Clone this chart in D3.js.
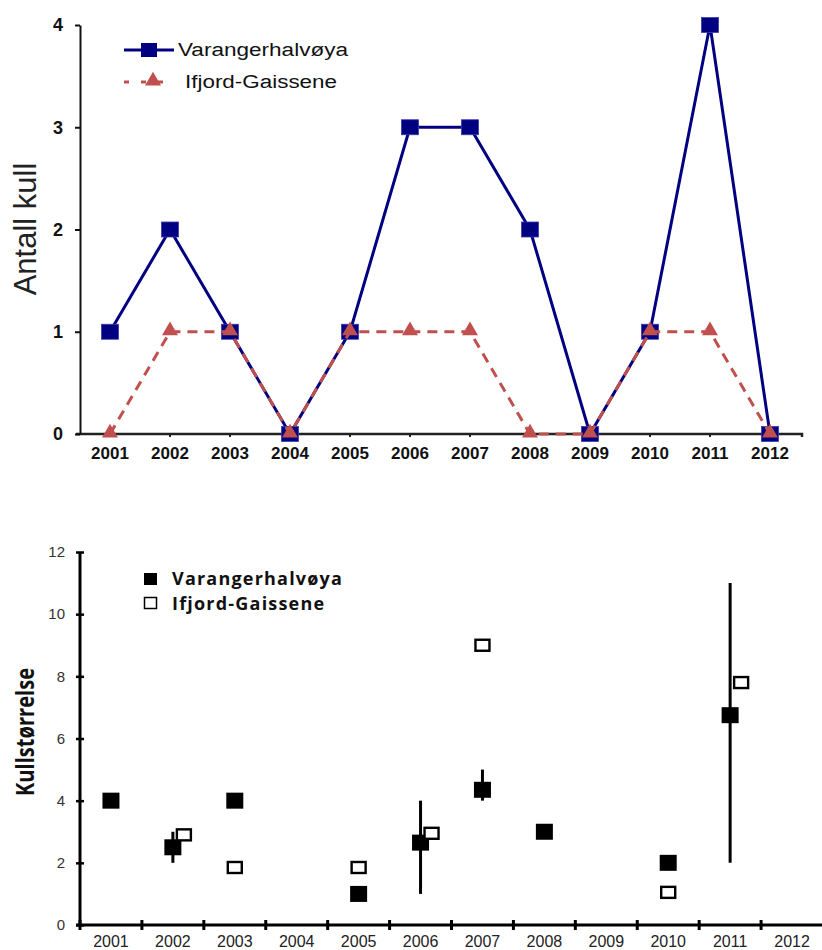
<!DOCTYPE html>
<html>
<head>
<meta charset="utf-8">
<script src="https://cdn.jsdelivr.net/npm/d3@7/dist/d3.min.js"></script>
<style>
  body { margin: 0; background: #fff; }
  svg { display: block; }
</style>
</head>
<body>
<svg id="chart" width="822" height="950"></svg>
<script>
// litter counts per year (top panel)
const years = ['2001', '2002', '2003', '2004', '2005', '2006', '2007', '2008', '2009', '2010', '2011', '2012'];
const varangerCount = [1, 2, 1, 0, 1, 3, 3, 2, 0, 1, 4, 0];
const ifjordCount = [0, 1, 1, 0, 1, 1, 1, 0, 0, 1, 1, 0];
const countTicks = [0, 1, 2, 3, 4];

// litter size per year (bottom panel), null = no data
const varangerSize = [4, 2.5, 4, null, 1, 2.65, 4.35, 3, null, 2, 6.75, null];
const varangerLow = [null, 2, null, null, null, 1, 4, null, null, null, 2, null];
const varangerHigh = [null, 3, null, null, null, 4, 5, null, null, null, 11, null];
const ifjordSize = [null, 2.9, 1.85, null, 1.85, 2.95, 9, null, null, 1.05, 7.8, null];
const sizeTicks = [0, 2, 4, 6, 8, 10, 12];

const seriesNames = ['Varangerhalvøya', 'Ifjord-Gaissene'];

const blue = '#000080';
const red = '#c0504d';
const narrow = '"Liberation Sans Narrow", "Arial Narrow", "Liberation Sans", Arial, sans-serif';
const svg = d3.select('#chart');

// ---------- top panel ----------
const topPanel = svg.append('g');
const x1 = d3.scaleBand().domain(years).range([80, 800]);
const y1 = d3.scaleLinear().domain([0, 4]).range([434, 25]);
const cx1 = d => x1(d) + x1.bandwidth() / 2;

const xAxis1 = d3.axisBottom(x1).tickSizeInner(3).tickSizeOuter(3).tickPadding(10);
const yAxis1 = d3.axisLeft(y1).tickValues(countTicks).tickFormat(d3.format('d')).tickSizeInner(5).tickSizeOuter(0).tickPadding(12);

topPanel.append('g')
  .attr('transform', 'translate(0,434)')
  .call(xAxis1)
  .call(g => g.select('.domain').attr('stroke', '#222').attr('stroke-width', 2.5).attr('d', 'M76,0H802V3'))
  .call(g => g.selectAll('.tick line').attr('stroke', '#222').attr('stroke-width', 2))
  .call(g => g.selectAll('text').attr('fill', '#111').style('font', `bold 17px ${narrow}`));

topPanel.append('g')
  .attr('transform', 'translate(80,0)')
  .call(yAxis1)
  .call(g => g.select('.domain').attr('stroke', '#111').attr('stroke-width', 2))
  .call(g => g.selectAll('.tick line').attr('stroke', '#111').attr('stroke-width', 2))
  .call(g => g.selectAll('text').attr('fill', '#111').style('font', `bold 18px ${narrow}`));

topPanel.append('text')
  .attr('transform', 'translate(36,229) rotate(-90)')
  .attr('text-anchor', 'middle')
  .attr('fill', '#222')
  .style('font', '31px "Liberation Sans", Arial, sans-serif')
  .text('Antall kull');

const line1 = d3.line().x((d, i) => cx1(years[i])).y(d => y1(d));

topPanel.append('path')
  .datum(varangerCount)
  .attr('d', line1)
  .attr('fill', 'none')
  .attr('stroke', blue)
  .attr('stroke-width', 3);

topPanel.selectAll('rect.varanger')
  .data(varangerCount)
  .enter().append('rect')
  .attr('class', 'varanger')
  .attr('x', (d, i) => cx1(years[i]) - 8.5)
  .attr('y', d => y1(d) - 7.5)
  .attr('width', 17)
  .attr('height', 15)
  .attr('fill', blue)
  .attr('stroke', '#3b3bb0')
  .attr('stroke-width', 0.8);

topPanel.append('path')
  .datum(ifjordCount)
  .attr('d', line1)
  .attr('fill', 'none')
  .attr('stroke', red)
  .attr('stroke-width', 3)
  .attr('stroke-dasharray', '10,7');

const tri = d3.symbol().type(d3.symbolTriangle).size(110);

topPanel.selectAll('path.ifjord')
  .data(ifjordCount)
  .enter().append('path')
  .attr('class', 'ifjord')
  .attr('d', tri)
  .attr('transform', (d, i) => `translate(${cx1(years[i])},${y1(d) - 1})`)
  .attr('fill', red);

// legend top
const leg1 = topPanel.append('g').style('font', '18px "Liberation Sans", Arial, sans-serif').attr('fill', '#111');
leg1.append('line').attr('x1', 124).attr('x2', 174).attr('y1', 50).attr('y2', 50).attr('stroke', blue).attr('stroke-width', 3);
leg1.append('rect').attr('x', 141).attr('y', 43).attr('width', 16).attr('height', 14).attr('fill', blue);
leg1.append('text').attr('x', 178).attr('y', 56)
  .attr('textLength', 170).attr('lengthAdjust', 'spacingAndGlyphs').text(seriesNames[0]);
leg1.append('line').attr('x1', 124).attr('x2', 164).attr('y1', 82).attr('y2', 82)
  .attr('stroke', red).attr('stroke-width', 3).attr('stroke-dasharray', '5,12');
leg1.append('path').attr('d', tri).attr('transform', 'translate(153,81)').attr('fill', red);
leg1.append('text').attr('x', 185).attr('y', 88)
  .attr('textLength', 152).attr('lengthAdjust', 'spacingAndGlyphs').text(seriesNames[1]);

// ---------- bottom panel ----------
const bot = svg.append('g');
const x2 = d3.scaleBand().domain(years).range([80, 823]);
const y2 = d3.scaleLinear().domain([0, 12]).range([925, 552]);
const cx2 = d => x2(d) + x2.bandwidth() / 2;

const xAxis2 = d3.axisBottom(x2).tickSize(0).tickPadding(11);
const yAxis2 = d3.axisLeft(y2).tickValues(sizeTicks).tickSizeInner(4).tickSizeOuter(0).tickPadding(11);

bot.append('g')
  .attr('transform', 'translate(0,925)')
  .call(xAxis2)
  .call(g => g.select('.domain').attr('stroke', '#000').attr('stroke-width', 3).attr('d', 'M76,0H822'))
  .call(g => g.selectAll('text').attr('fill', '#222').style('font', '16px "Liberation Sans", Arial, sans-serif'));

// boundary ticks crossing the x axis
bot.append('g')
  .selectAll('line')
  .data(years)
  .enter().append('line')
  .attr('x1', d => x2(d))
  .attr('x2', d => x2(d))
  .attr('y1', 920)
  .attr('y2', 930)
  .attr('stroke', '#000')
  .attr('stroke-width', 3);

bot.append('g')
  .attr('transform', 'translate(80,0)')
  .call(yAxis2)
  .call(g => g.select('.domain').attr('stroke', '#000').attr('stroke-width', 3).attr('d', 'M0,552V925'))
  .call(g => g.selectAll('.tick line').attr('x1', -4).attr('x2', 4).attr('stroke', '#000').attr('stroke-width', 2.5))
  .call(g => g.selectAll('text').attr('fill', '#333').style('font', '15px "Liberation Sans", Arial, sans-serif'));

bot.append('text')
  .attr('transform', 'translate(34,732) rotate(-90)')
  .attr('text-anchor', 'middle')
  .attr('fill', '#111')
  .attr('textLength', 128)
  .attr('lengthAdjust', 'spacingAndGlyphs')
  .style('font', 'bold 25px "Open Sans", sans-serif')
  .text('Kullstørrelse');

const sizeRows = years.map((yr, i) => ({
  year: yr,
  v: varangerSize[i],
  lo: varangerLow[i],
  hi: varangerHigh[i],
  f: ifjordSize[i]
}));

// error bars
bot.selectAll('line.err')
  .data(sizeRows.filter(d => d.lo != null))
  .enter().append('line')
  .attr('class', 'err')
  .attr('x1', d => cx2(d.year))
  .attr('x2', d => cx2(d.year))
  .attr('y1', d => y2(d.lo))
  .attr('y2', d => y2(d.hi))
  .attr('stroke', '#000')
  .attr('stroke-width', 3);

bot.selectAll('rect.v')
  .data(sizeRows.filter(d => d.v != null))
  .enter().append('rect')
  .attr('class', 'v')
  .attr('x', d => cx2(d.year) - 8.5)
  .attr('y', d => y2(d.v) - 8)
  .attr('width', 17)
  .attr('height', 16)
  .attr('fill', '#000');

// open marker sits beside the filled one when it falls inside its error bar
const shiftOpen = d => (d.lo != null && d.f >= d.lo && d.f <= d.hi) ? 11 : 0;

bot.selectAll('rect.f')
  .data(sizeRows.filter(d => d.f != null))
  .enter().append('rect')
  .attr('class', 'f')
  .attr('x', d => cx2(d.year) + shiftOpen(d) - 7)
  .attr('y', d => y2(d.f) - 5.5)
  .attr('width', 14)
  .attr('height', 11)
  .attr('fill', '#fff')
  .attr('stroke', '#000')
  .attr('stroke-width', 2.4);

// legend bottom
const leg2 = bot.append('g').style('font', 'bold 18px "Open Sans", sans-serif').attr('fill', '#111');
leg2.append('rect').attr('x', 144).attr('y', 573).attr('width', 13).attr('height', 12).attr('fill', '#000');
leg2.append('text').attr('x', 172).attr('y', 585).attr('letter-spacing', 1.2).text(seriesNames[0]);
leg2.append('rect').attr('x', 144.5).attr('y', 597.5).attr('width', 12).attr('height', 11).attr('fill', '#fff').attr('stroke', '#000').attr('stroke-width', 1.5);
leg2.append('text').attr('x', 172).attr('y', 610).attr('letter-spacing', 1.2).text(seriesNames[1]);
</script>
</body>
</html>
